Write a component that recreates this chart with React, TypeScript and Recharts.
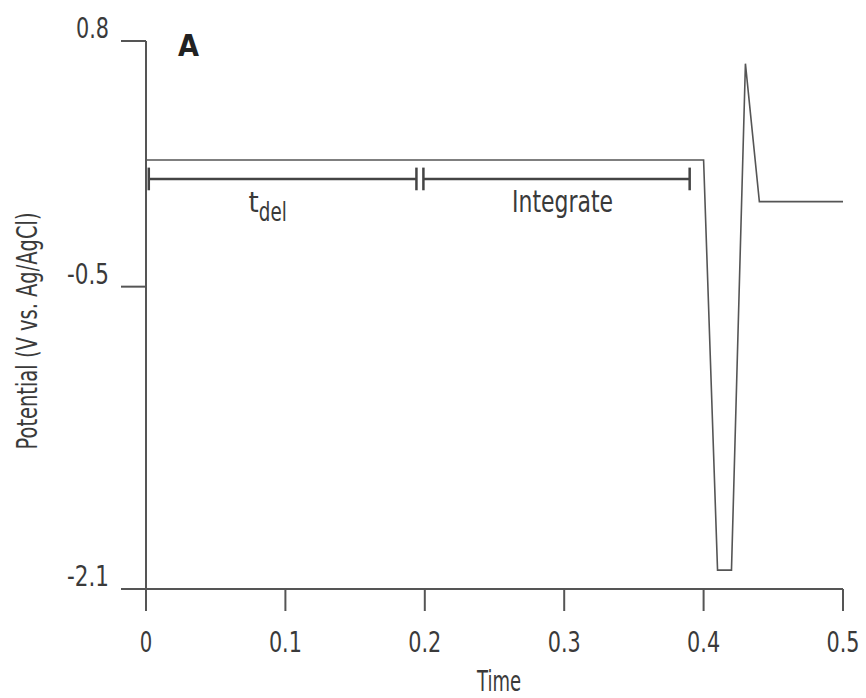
import React from "react"
import { LineChart, Line, XAxis, YAxis, ReferenceLine } from "recharts"

// waveform (time in s, potential in V vs Ag/AgCl)
const timeValues = [0, 0.4, 0.41, 0.42, 0.43, 0.44, 0.5]
const potentialValues = [0.17, 0.17, -2.0, -2.0, 0.68, -0.05, -0.05]

const xTicks = [0, 0.1, 0.2, 0.3, 0.4, 0.5]
const yTicks = [0.8, -0.5, -2.1]

// timing brackets drawn under the first step
const bracketMain = ["t", "Integrate"]
const bracketSub = ["del", ""]
const bracketStart = [0.002, 0.199]
const bracketEnd = [0.194, 0.39]
const bracketLevel = 0.07
const bracketCap = 0.06

const FONT = "'Liberation Sans Narrow', 'Arial Narrow', 'DejaVu Sans Condensed', sans-serif"
const INK = "#3a3a3a"
const LINE = "#555"

const waveform = timeValues.map((t, i) => ({ time: t, potential: potentialValues[i] }))

// squeeze labels to the condensed look of the original
const labelWidth = (s: string) =>
  s.split("").reduce((w, c) => w + (c === "." ? 8 : c === "-" ? 9 : 12.5), 0)

const XTick = ({ x, y, payload }: any) => {
  const s = String(payload.value)
  return (
    <text x={x} y={y} dy={39} textAnchor="middle" fontFamily={FONT} fontSize={28} fill={INK}
      textLength={labelWidth(s)} lengthAdjust="spacingAndGlyphs">
      {s}
    </text>
  )
}

const YTick = ({ x, y, payload }: any) => {
  const s = String(payload.value)
  return (
    <text x={x} y={y} dy={-3} textAnchor="end" fontFamily={FONT} fontSize={28} fill={INK}
      textLength={labelWidth(s)} lengthAdjust="spacingAndGlyphs">
      {s}
    </text>
  )
}

// label offsets relative to bracket centre
const labelDx = [-16, 6]

const bracketLabel = (i: number) => ({ viewBox }: any) => {
  const cx = viewBox.x + viewBox.width / 2 + labelDx[i]
  const y = viewBox.y + 33
  if (bracketSub[i]) {
    return (
      <text x={cx - 18} y={y} fontFamily={FONT} fill={INK}>
        <tspan fontSize={29}>{bracketMain[i]}</tspan>
        <tspan fontSize={26} dy={9} textLength={28} lengthAdjust="spacingAndGlyphs">{bracketSub[i]}</tspan>
      </text>
    )
  }
  return (
    <text x={cx} y={y} textAnchor="middle" fontFamily={FONT} fontSize={30} fill={INK}
      textLength={101} lengthAdjust="spacingAndGlyphs">
      {bracketMain[i]}
    </text>
  )
}

export default function App() {
  return (
    <div style={{ position: "absolute", left: 0, top: 0, width: 866, height: 698, background: "#fff" }}>
      <LineChart width={866} height={698} data={waveform} margin={{ top: 41, right: 23, left: 0, bottom: 0 }}>
        <XAxis
          dataKey="time"
          type="number"
          domain={[0, 0.5]}
          ticks={xTicks}
          tickSize={22}
          height={109}
          tick={<XTick />}
          axisLine={{ stroke: LINE, strokeWidth: 2 }}
          tickLine={{ stroke: LINE, strokeWidth: 2 }}
          label={{
            content: () => (
              <text x={499} y={691} textAnchor="middle" fontFamily={FONT} fontSize={29} fill={INK}
                textLength={44} lengthAdjust="spacingAndGlyphs">
                Time
              </text>
            ),
          }}
        />
        <YAxis
          type="number"
          domain={[-2.1, 0.8]}
          ticks={yTicks}
          tickSize={25}
          tickMargin={12}
          width={146}
          tick={<YTick />}
          axisLine={{ stroke: LINE, strokeWidth: 2 }}
          tickLine={{ stroke: LINE, strokeWidth: 2 }}
          label={{
            content: () => (
              <text transform="translate(37, 331) rotate(-90)" textAnchor="middle" fontFamily={FONT}
                fontSize={28} fill={INK} textLength={237} lengthAdjust="spacingAndGlyphs">
                Potential (V vs. Ag/AgCl)
              </text>
            ),
          }}
        />
        {bracketStart.map((s, i) => (
          <ReferenceLine
            key={`bar-${i}`}
            segment={[{ x: s, y: bracketLevel }, { x: bracketEnd[i], y: bracketLevel }]}
            stroke="#444"
            strokeWidth={2.5}
            label={bracketLabel(i)}
          />
        ))}
        {[...bracketStart, ...bracketEnd].map((x, i) => (
          <ReferenceLine
            key={`cap-${i}`}
            segment={[{ x, y: bracketLevel - bracketCap }, { x, y: bracketLevel + bracketCap }]}
            stroke="#444"
            strokeWidth={2.5}
          />
        ))}
        <Line
          dataKey="potential"
          type="linear"
          stroke={LINE}
          strokeWidth={1.6}
          dot={false}
          isAnimationActive={false}
        />
      </LineChart>
      <svg width={866} height={698} style={{ position: "absolute", left: 0, top: 0, pointerEvents: "none" }}>
        <text x={178} y={56} fontFamily={FONT} fontSize={30} fontWeight="bold" fill="#222"
          textLength={21} lengthAdjust="spacingAndGlyphs">
          A
        </text>
      </svg>
    </div>
  )
}
